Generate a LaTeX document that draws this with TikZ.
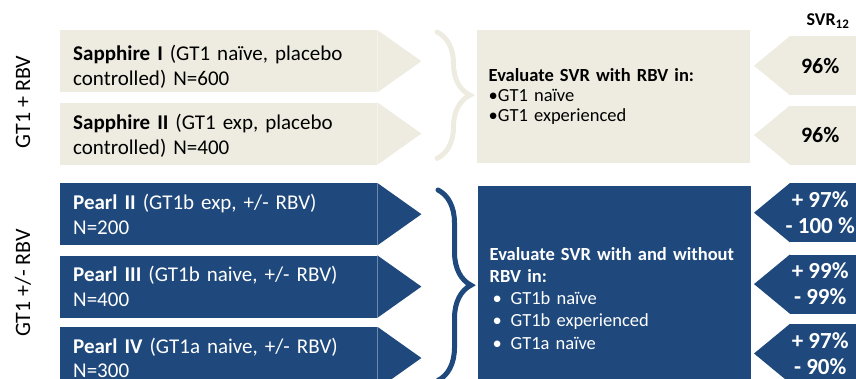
\documentclass[tikz,border=0pt]{standalone}
\usepackage{fontspec}
\setmainfont{Carlito}
\usetikzlibrary{positioning,calc,backgrounds,decorations.pathreplacing}
\definecolor{trialtan}{RGB}{238,236,225}
\definecolor{trialblue}{RGB}{31,73,125}
% arrow tips on the trial boxes (right) and on the SVR boxes (left)
\newcommand{\tipR}[2]{\fill[#2] (#1.north east) -- ([xshift=44pt]#1.east) -- (#1.south east) -- cycle;}
\newcommand{\tipL}[2]{\fill[#2] (#1.north west) -- ([xshift=-36pt]#1.west) -- (#1.south west) -- cycle;}
\tikzset{
  trial/.style={rectangle, fill=#1, anchor=north west, inner sep=0pt,
                minimum width=317pt, minimum height=62pt, text width=291pt,
                align=left, font=\fontsize{21}{24.7}\selectfont},
  evalbox/.style={rectangle, fill=#1, anchor=north west, inner sep=0pt,
                  minimum width=273pt, text width=250pt, align=left},
  svrbox/.style={rectangle, fill=#1, anchor=north west, inner sep=0pt,
                 minimum width=70pt, minimum height=59pt},
  svrlab/.style={font=\bfseries\fontsize{#1}{26}\selectfont, align=center, xshift=-5pt},
  svrlab/.default=22,
  grpbrace/.style={draw=#1, line width=5pt, line cap=round, decorate,
                   decoration={brace, amplitude=33pt}},
  armlab/.style={rotate=90, font=\fontsize{22}{26}\selectfont},
}
\begin{document}
\begin{tikzpicture}[x=1pt, y=-1pt, node distance=10pt]
  \useasboundingbox (0,0) rectangle (856,379);
  \clip (0,0) rectangle (856,379);

  % arm labels
  \node[armlab] (armrbv) at (23,102) {GT1 + RBV};
  \node[armlab] (armpm) at (23,283) {GT1 +/- RBV};

  % Sapphire trials
  \node[trial=trialtan] (sap1) at (60,30)
        {\rule{0pt}{27pt}\textbf{Sapphire I} (GT1 naïve, placebo\\controlled) N=600};
  \node[trial=trialtan, below=10pt of sap1] (sap2)
        {\rule{0pt}{20pt}\textbf{Sapphire II} (GT1 exp, placebo\\controlled) N=400};

  % Pearl trials
  \node[trial=trialblue, text=white] (pearl2) at (60,183)
        {\textbf{Pearl II} (GT1b exp, +/- RBV)\\N=200};
  \node[trial=trialblue, text=white, below=10pt of pearl2] (pearl3)
        {\textbf{Pearl III} (GT1b naive, +/- RBV)\\N=400};
  \node[trial=trialblue, text=white, below=9pt of pearl3] (pearl4)
        {\textbf{Pearl IV} (GT1a naive, +/- RBV)\\N=300};

  % evaluation boxes
  \node[evalbox=trialtan, minimum height=133pt, font=\fontsize{18.5}{19.8}\selectfont]
        (eval1) at (477,30)
        {\textbf{Evaluate SVR with RBV in:}\\•GT1 naïve\\•GT1 experienced\\[8pt]};
  \node[evalbox=trialblue, text=white, minimum height=224pt,
        font=\fontsize{18.5}{22.2}\selectfont] (eval2) at (478,186)
        {\textbf{Evaluate SVR with and without}\\\textbf{RBV in:}\\
         \hspace*{3pt}\makebox[18pt][l]{•}GT1b naïve\\
         \hspace*{3pt}\makebox[18pt][l]{•}GT1b experienced\\
         \hspace*{3pt}\makebox[18pt][l]{•}GT1a naïve};

  % braces grouping the trials
  \draw[grpbrace=trialtan] ([xshift=-40pt,yshift=-2pt]eval1.north west)
        -- ([xshift=-40pt,yshift=5pt]eval1.south west);
  \draw[grpbrace=trialblue] ([xshift=-40pt,yshift=-4pt]eval2.north west)
        -- ([xshift=-40pt,yshift=30pt]eval2.south west);

  % SVR12 results
  \node[font=\bfseries\fontsize{18}{20}\selectfont, anchor=base] (svrhead) at (828,26)
        {SVR\textsubscript{\fontsize{13}{14}\selectfont 12}};
  \node[svrbox=trialtan, label={[svrlab]center:96\%}] (svr1) at (790,36) {};
  \node[svrbox=trialtan, below=10pt of svr1, label={[svrlab]center:96\%}] (svr2) {};
  \node[svrbox=trialblue, label={[svrlab=23, text=white]center:{+ 97\%\\- 100 \%}}]
        (svr3) at (790,183) {};
  \node[svrbox=trialblue, below=12pt of svr3,
        label={[svrlab=23, text=white]center:{+ 99\%\\- 99\%}}] (svr4) {};
  \node[svrbox=trialblue, below=10pt of svr4,
        label={[svrlab=23, text=white]center:{+ 97\%\\- 90\%}}] (svr5) {};

  % arrow tips behind the texts
  \begin{scope}[on background layer]
    \tipR{sap1}{trialtan}
    \tipR{sap2}{trialtan}
    \tipR{pearl2}{trialblue}
    \tipR{pearl3}{trialblue}
    \tipR{pearl4}{trialblue}
    \tipL{svr1}{trialtan}
    \tipL{svr2}{trialtan}
    \tipL{svr3}{trialblue}
    \tipL{svr4}{trialblue}
    \tipL{svr5}{trialblue}
  \end{scope}
\end{tikzpicture}
\end{document}
